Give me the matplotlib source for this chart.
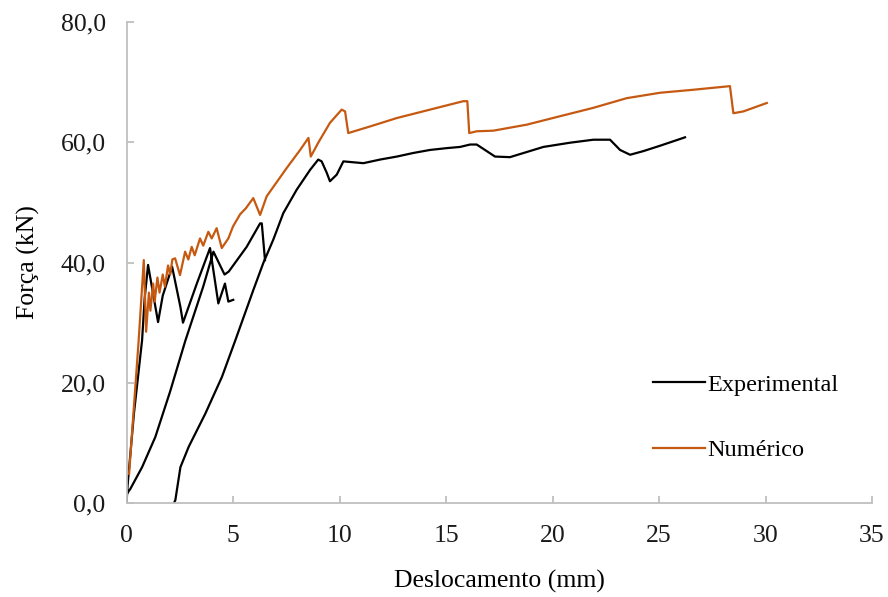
import numpy as np
import matplotlib
matplotlib.use("Agg")
import matplotlib.pyplot as plt

plt.rcParams['font.family'] = ['Liberation Serif', 'DejaVu Serif']

# experimental curve (cyclic test, branches separated by NaN)
exp_x = [0.0, 0.05, 0.35, 0.73, 0.85, 1.01, 1.48, 1.7, 2.14, 2.53, 2.65, 3.3, 3.92, 4.31, 4.62, 4.78, 5.01,
         np.nan,
         0.0, 0.02, 0.18, 0.73, 1.35, 2.04, 2.76, 3.6, 4.08, 4.6, 4.8, 5.64, 6.27, 6.35, 6.5,
         np.nan,
         2.22, 2.29, 2.53, 2.92, 3.7, 4.48, 5.11, 5.95, 6.42, 6.89, 7.36, 7.99, 8.62, 9.0, 9.16, 9.4,
         9.55, 9.87, 10.18, 11.12, 11.9, 12.69, 13.47, 14.25, 15.03, 15.66, 16.13, 16.44, 17.3, 18.0,
         19.57, 20.82, 21.92, 22.7, 23.17, 23.64, 24.26, 25.05, 26.14, 26.22]
exp_y = [0.0, 3.0, 15.0, 27.1, 34.0, 39.6, 30.1, 34.5, 39.3, 32.6, 30.0, 36.5, 42.4, 33.2, 36.5, 33.5, 33.8,
         np.nan,
         0.0, 1.6, 2.4, 6.0, 11.0, 18.5, 27.0, 36.0, 41.8, 38.0, 38.5, 42.6, 46.5, 46.5, 40.4,
         np.nan,
         0.0, 0.5, 6.0, 9.4, 14.9, 21.0, 27.1, 35.4, 39.9, 43.8, 48.2, 52.1, 55.4, 57.1, 56.8, 54.9,
         53.5, 54.6, 56.8, 56.5, 57.1, 57.6, 58.2, 58.7, 59.0, 59.2, 59.6, 59.6, 57.6, 57.5,
         59.2, 59.9, 60.4, 60.4, 58.7, 57.9, 58.5, 59.4, 60.7, 60.8]

# numerical curve
num_x = [0.12, 0.57, 0.81, 0.92, 1.05, 1.12, 1.25, 1.32, 1.45, 1.55, 1.7, 1.8, 1.95, 2.05, 2.15,
         2.28, 2.51, 2.75, 2.9, 3.06, 3.2, 3.45, 3.6, 3.84, 4.0, 4.23, 4.47, 4.78, 5.0, 5.33, 5.6,
         5.95, 6.27, 6.58, 7.52, 8.15, 8.54, 8.65, 9.0, 9.55, 10.1, 10.26, 10.41, 11.43, 12.69,
         14.25, 15.81, 16.0, 16.09, 16.44, 17.22, 18.79, 20.35, 21.92, 23.48, 25.05, 26.61,
         28.33, 28.49, 28.96, 30.06]
num_y = [4.9, 27.1, 40.4, 28.5, 35.0, 32.0, 36.5, 33.5, 37.5, 35.0, 38.0, 36.0, 39.5, 38.0, 40.5,
         40.7, 37.9, 41.8, 40.5, 42.6, 41.2, 44.0, 42.8, 45.1, 44.0, 45.7, 42.4, 44.0, 46.0, 48.0, 49.0,
         50.7, 47.9, 51.0, 55.7, 58.7, 60.7, 57.6, 59.9, 63.2, 65.4, 65.1, 61.5, 62.6, 64.0,
         65.4, 66.8, 66.8, 61.5, 61.8, 61.9, 62.9, 64.3, 65.7, 67.3, 68.2, 68.7,
         69.3, 64.8, 65.1, 66.5]

x_ticks = [0, 5, 10, 15, 20, 25, 30, 35]
y_ticks = [0, 20, 40, 60, 80]
y_labels = ['0,0', '20,0', '40,0', '60,0', '80,0']

fig = plt.figure(figsize=(8.88, 5.97), dpi=100)
ax = fig.add_axes([0.1425, 0.157, 0.8395, 0.8066])

ax.plot(exp_x, exp_y, color='black', lw=1.6, label='Experimental')
ax.plot(num_x, num_y, color='#C65911', lw=1.6, label='Numérico')

ax.set_xlim(0, 35)
ax.set_ylim(0, 80)
ax.set_xticks(x_ticks)
ax.set_yticks(y_ticks)
ax.set_yticklabels(y_labels)

for s in ['top', 'right']:
    ax.spines[s].set_visible(False)
for s in ['left', 'bottom']:
    ax.spines[s].set_color('#BFBFBF')
    ax.spines[s].set_linewidth(1.3)

ax.tick_params(axis='both', direction='in', length=5, width=1.3, color='#BFBFBF',
               labelsize=18.5, labelcolor='#1a1a1a')
ax.tick_params(axis='x', pad=15.5)
ax.tick_params(axis='y', pad=15)

ax.set_xlabel('Deslocamento (mm)', fontsize=18.5)
ax.set_ylabel('Força (kN)', fontsize=18.5)
ax.xaxis.set_label_coords(0.5, -0.138)
ax.yaxis.set_label_coords(-0.116, 0.5)

ax.legend(loc='center left', bbox_to_anchor=(0.706, 0.178), frameon=False, fontsize=17.5,
          labelspacing=1.8, handlelength=2.15, handletextpad=0.1, borderpad=0, borderaxespad=0)

fig.savefig('out.png', dpi=100)
